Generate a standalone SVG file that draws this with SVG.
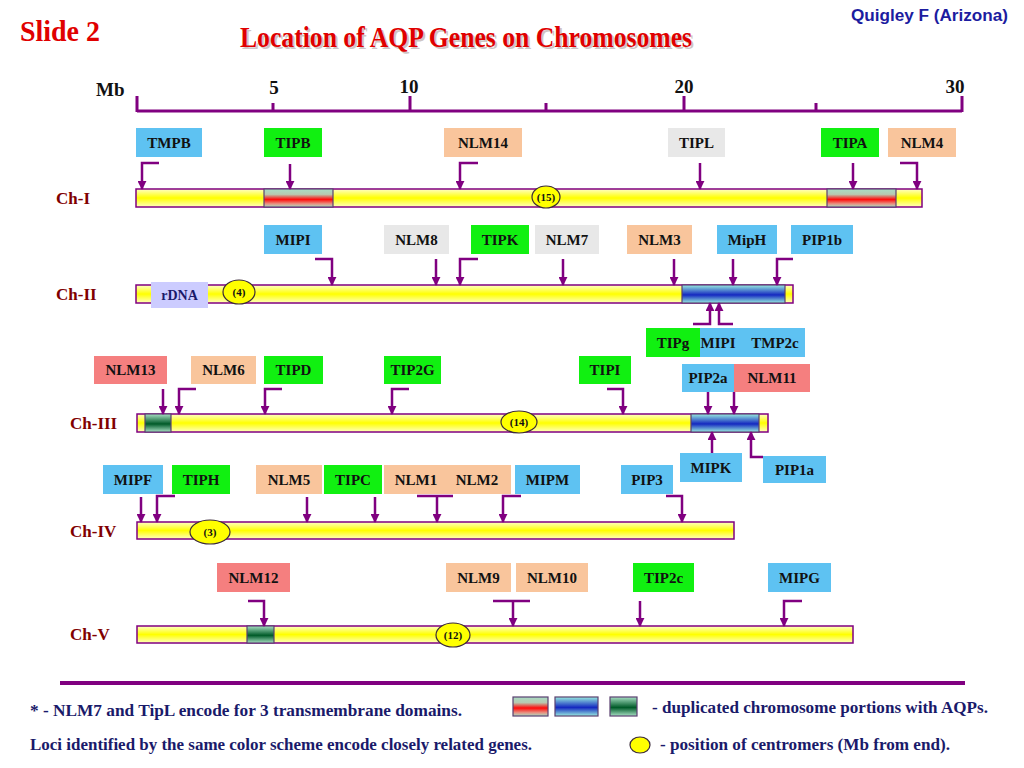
<svg xmlns="http://www.w3.org/2000/svg" width="1024" height="768" viewBox="0 0 1024 768">
<style>
.bx{stroke:none}
.blue{fill:#5ec2f2}.green{fill:#11f011}.orange{fill:#f9c59c}.gray{fill:#e8e8e8}.salmon{fill:#f57f7f}
.lbl{font-family:"Liberation Serif","Times New Roman",serif;font-weight:bold;font-size:15px;fill:#111;text-anchor:middle}
.ch{font-family:"Liberation Serif","Times New Roman",serif;font-weight:bold;font-size:17px;fill:#800000}
.num{font-family:"Liberation Serif","Times New Roman",serif;font-weight:bold;font-size:19px;fill:#111;text-anchor:middle}
.cen{fill:#ffff00;stroke:#3a2a3a;stroke-width:1.2}
.cent{font-family:"Liberation Serif","Times New Roman",serif;font-weight:bold;font-size:11px;fill:#111;text-anchor:middle}
.bar{fill:url(#gy);stroke:#800080;stroke-width:1.5}
.seg{stroke:#5a4070;stroke-width:1.2}
.leg{font-family:"Liberation Serif","Times New Roman",serif;font-weight:bold;font-size:17px;fill:#1a1a6a}
.arr{fill:none;stroke:#800080;stroke-width:2.5;marker-end:url(#ah)}
.ln{fill:none;stroke:#800080;stroke-width:2.5}
</style>
<defs>
<marker id="ah" viewBox="0 0 10 10" refX="9" refY="5" markerWidth="9" markerHeight="9" markerUnits="userSpaceOnUse" orient="auto">
<path d="M0,0 L10,5 L0,10 z" fill="#800080"/>
</marker>
<linearGradient id="gy" x1="0" y1="0" x2="0" y2="1">
<stop offset="0" stop-color="#ffffc8"/><stop offset="0.5" stop-color="#ffff00"/><stop offset="1" stop-color="#ffffc0"/>
</linearGradient>
<linearGradient id="gr" x1="0" y1="0" x2="0" y2="1">
<stop offset="0" stop-color="#a8dcc4"/><stop offset="0.3" stop-color="#b8c8b0"/><stop offset="0.58" stop-color="#ff0a0a"/><stop offset="0.82" stop-color="#e89080"/><stop offset="1" stop-color="#a8dcc4"/>
</linearGradient>
<linearGradient id="gb" x1="0" y1="0" x2="0" y2="1">
<stop offset="0" stop-color="#98ece0"/><stop offset="0.55" stop-color="#1428c0"/><stop offset="1" stop-color="#98ece0"/>
</linearGradient>
<linearGradient id="gg" x1="0" y1="0" x2="0" y2="1">
<stop offset="0" stop-color="#a8e0c4"/><stop offset="0.55" stop-color="#005a28"/><stop offset="1" stop-color="#a8e0c4"/>
</linearGradient>
</defs>
<rect width="1024" height="768" fill="#ffffff"/>

<!-- header -->
<text x="20" y="41" font-family="'Liberation Serif','Times New Roman',serif" font-weight="bold" font-size="30" fill="#e00000" textLength="80" lengthAdjust="spacingAndGlyphs">Slide 2</text>
<text x="242" y="49" font-family="'Liberation Serif','Times New Roman',serif" font-weight="bold" font-size="29" fill="#b0a0a0" opacity="0.6" textLength="452" lengthAdjust="spacingAndGlyphs">Location of AQP Genes on Chromosomes</text>
<text x="240" y="47" font-family="'Liberation Serif','Times New Roman',serif" font-weight="bold" font-size="29" fill="#e00000" textLength="452" lengthAdjust="spacingAndGlyphs">Location of AQP Genes on Chromosomes</text>
<text x="851" y="21" font-family="'Liberation Sans',Arial,sans-serif" font-weight="bold" font-size="16" fill="#1c1ca0" textLength="157" lengthAdjust="spacingAndGlyphs">Quigley F (Arizona)</text>

<!-- axis -->
<g id="axis">
<text x="96" y="96" font-family="'Liberation Serif','Times New Roman',serif" font-weight="bold" font-size="19" fill="#111">Mb</text>
<text class="num" x="274" y="94">5</text>
<text class="num" x="409" y="93">10</text>
<text class="num" x="684" y="93">20</text>
<text class="num" x="955" y="93">30</text>
<path d="M137,111 H962 M137,96 V112 M273,103 V112 M410,96 V112 M546,103 V112 M684,96 V112 M816,103 V112 M962,96 V112" fill="none" stroke="#800080" stroke-width="3"/>
</g>

<!-- chromosome labels -->
<text class="ch" x="56" y="204">Ch-I</text>
<text class="ch" x="56" y="300">Ch-II</text>
<text class="ch" x="70" y="429">Ch-III</text>
<text class="ch" x="70" y="537">Ch-IV</text>
<text class="ch" x="70" y="640">Ch-V</text>

<!-- chromosomes -->
<g id="ch1">
<rect class="bar" x="136" y="189" width="786" height="18"/>
<rect class="seg" x="264" y="189" width="69" height="18" fill="url(#gr)"/>
<rect class="seg" x="827" y="189" width="69" height="18" fill="url(#gr)"/>
<ellipse class="cen" cx="546" cy="197" rx="14" ry="11"/><text class="cent" x="546" y="201">(15)</text>
</g>
<g id="ch2">
<rect class="bar" x="136" y="285" width="657" height="18"/>
<rect class="seg" x="682" y="285" width="103" height="18" fill="url(#gb)"/>
<rect x="151" y="282" width="57" height="26" fill="#ccccff"/>
<text x="179.5" y="300" font-family="'Liberation Serif','Times New Roman',serif" font-weight="bold" font-size="14" fill="#1a1a6a" text-anchor="middle">rDNA</text>
<ellipse class="cen" cx="239" cy="292" rx="16" ry="12"/><text class="cent" x="239" y="296">(4)</text>
</g>
<g id="ch3">
<rect class="bar" x="137" y="414" width="631" height="18"/>
<rect class="seg" x="145" y="414" width="26" height="18" fill="url(#gg)"/>
<rect class="seg" x="691" y="414" width="68" height="18" fill="url(#gb)"/>
<ellipse class="cen" cx="519" cy="422" rx="18" ry="11"/><text class="cent" x="519" y="426">(14)</text>
</g>
<g id="ch4">
<rect class="bar" x="137" y="522" width="597" height="17"/>
<ellipse class="cen" cx="210" cy="532" rx="20" ry="12"/><text class="cent" x="210" y="536">(3)</text>
</g>
<g id="ch5">
<rect class="bar" x="137" y="626" width="716" height="17"/>
<rect class="seg" x="247" y="626" width="27" height="17" fill="url(#gg)"/>
<ellipse class="cen" cx="453" cy="635" rx="17" ry="12"/><text class="cent" x="453" y="639">(12)</text>
</g>

<!-- gene nodes -->
<g id="TMPB"><rect class="bx blue" x="136" y="128" width="66" height="29"/><text class="lbl" x="169" y="148">TMPB</text></g>
<g id="TIPB"><rect class="bx green" x="264" y="128" width="58" height="29"/><text class="lbl" x="293" y="148">TIPB</text></g>
<g id="NLM14"><rect class="bx orange" x="444" y="128" width="78" height="29"/><text class="lbl" x="483" y="148">NLM14</text></g>
<g id="TIPL"><rect class="bx gray" x="668" y="128" width="57" height="29"/><text class="lbl" x="696.5" y="148">TIPL</text></g>
<g id="TIPA"><rect class="bx green" x="821" y="128" width="58" height="29"/><text class="lbl" x="850" y="148">TIPA</text></g>
<g id="NLM4"><rect class="bx orange" x="888" y="128" width="68" height="29"/><text class="lbl" x="922" y="148">NLM4</text></g>

<g id="MIPI"><rect class="bx blue" x="264" y="225" width="58" height="29"/><text class="lbl" x="293" y="245">MIPI</text></g>
<g id="NLM8"><rect class="bx gray" x="384" y="225" width="65" height="29"/><text class="lbl" x="416.5" y="245">NLM8</text></g>
<g id="TIPK"><rect class="bx green" x="471" y="225" width="58" height="29"/><text class="lbl" x="500" y="245">TIPK</text></g>
<g id="NLM7"><rect class="bx gray" x="535" y="225" width="64" height="29"/><text class="lbl" x="567" y="245">NLM7</text></g>
<g id="NLM3"><rect class="bx orange" x="627" y="225" width="65" height="29"/><text class="lbl" x="659.5" y="245">NLM3</text></g>
<g id="MipH"><rect class="bx blue" x="717" y="225" width="60" height="29"/><text class="lbl" x="747" y="245">MipH</text></g>
<g id="PIP1b"><rect class="bx blue" x="791" y="225" width="62" height="29"/><text class="lbl" x="822" y="245">PIP1b</text></g>
<g id="TIPg"><rect class="bx green" x="646" y="328" width="54" height="29"/><text class="lbl" x="673" y="348">TIPg</text></g>
<g id="MIPI-TMP2c"><rect class="bx blue" x="700" y="328" width="105" height="29"/><text class="lbl" x="718" y="348">MIPI</text><text class="lbl" x="775" y="348">TMP2c</text></g>

<g id="NLM13"><rect class="bx salmon" x="94" y="356" width="73" height="28"/><text class="lbl" x="130.5" y="375">NLM13</text></g>
<g id="NLM6"><rect class="bx orange" x="191" y="356" width="65" height="28"/><text class="lbl" x="223.5" y="375">NLM6</text></g>
<g id="TIPD"><rect class="bx green" x="264" y="356" width="59" height="28"/><text class="lbl" x="293.5" y="375">TIPD</text></g>
<g id="TIP2G"><rect class="bx green" x="384" y="356" width="57" height="28"/><text class="lbl" x="412.5" y="375">TIP2G</text></g>
<g id="TIPI"><rect class="bx green" x="579" y="356" width="52" height="28"/><text class="lbl" x="605" y="375">TIPI</text></g>
<g id="PIP2a"><rect class="bx blue" x="682" y="364" width="52" height="28"/><text class="lbl" x="708" y="383">PIP2a</text></g>
<g id="NLM11"><rect class="bx salmon" x="734" y="364" width="76" height="28"/><text class="lbl" x="772" y="383">NLM11</text></g>
<g id="MIPK"><rect class="bx blue" x="680" y="453" width="62" height="29"/><text class="lbl" x="711" y="473">MIPK</text></g>
<g id="PIP1a"><rect class="bx blue" x="763" y="456" width="63" height="27"/><text class="lbl" x="794.5" y="475">PIP1a</text></g>

<g id="MIPF"><rect class="bx blue" x="103" y="465" width="60" height="29"/><text class="lbl" x="133" y="485">MIPF</text></g>
<g id="TIPH"><rect class="bx green" x="172" y="465" width="58" height="29"/><text class="lbl" x="201" y="485">TIPH</text></g>
<g id="NLM5"><rect class="bx orange" x="256" y="465" width="66" height="29"/><text class="lbl" x="289" y="485">NLM5</text></g>
<g id="TIPC"><rect class="bx green" x="324" y="465" width="58" height="29"/><text class="lbl" x="353" y="485">TIPC</text></g>
<g id="NLM1"><rect class="bx orange" x="384" y="465" width="64" height="29"/><text class="lbl" x="416" y="485">NLM1</text></g>
<g id="NLM2"><rect class="bx orange" x="447" y="465" width="64" height="29"/><text class="lbl" x="477" y="485">NLM2</text></g>
<g id="MIPM"><rect class="bx blue" x="515" y="465" width="65" height="29"/><text class="lbl" x="547.5" y="485">MIPM</text></g>
<g id="PIP3"><rect class="bx blue" x="621" y="465" width="52" height="29"/><text class="lbl" x="647" y="485">PIP3</text></g>

<g id="NLM12"><rect class="bx salmon" x="217" y="563" width="73" height="29"/><text class="lbl" x="253.5" y="583">NLM12</text></g>
<g id="NLM9"><rect class="bx orange" x="446" y="563" width="65" height="29"/><text class="lbl" x="478.5" y="583">NLM9</text></g>
<g id="NLM10"><rect class="bx orange" x="516" y="563" width="72" height="29"/><text class="lbl" x="552" y="583">NLM10</text></g>
<g id="TIP2c"><rect class="bx green" x="633" y="563" width="61" height="29"/><text class="lbl" x="663.5" y="583">TIP2c</text></g>
<g id="MIPG"><rect class="bx blue" x="768" y="563" width="63" height="29"/><text class="lbl" x="799.5" y="583">MIPG</text></g>

<!-- connectors -->
<g id="connectors">
<path class="arr" d="M159,163 H142 V189"/>
<path class="arr" d="M290,164 V189"/>
<path class="arr" d="M478,163 H460 V189"/>
<path class="arr" d="M700,163 V189"/>
<path class="arr" d="M853,163 V189"/>
<path class="arr" d="M900,163 H917 V189"/>

<path class="arr" d="M315,259 H332 V285"/>
<path class="arr" d="M436,259 V285"/>
<path class="arr" d="M478,259 H460 V285"/>
<path class="arr" d="M563,259 V285"/>
<path class="arr" d="M674,259 V285"/>
<path class="arr" d="M733,259 V285"/>
<path class="arr" d="M793,259 H777 V285"/>
<path class="arr" d="M693,324 H710 V303"/>
<path class="arr" d="M733,324 H719 V303"/>

<path class="arr" d="M163,389 V414"/>
<path class="arr" d="M196,389 H179 V414"/>
<path class="arr" d="M282,389 H265 V414"/>
<path class="arr" d="M409,389 H392 V414"/>
<path class="arr" d="M607,389 H623 V414"/>
<path class="arr" d="M708,392 V414"/>
<path class="arr" d="M734,392 V414"/>
<path class="arr" d="M712,453 V432"/>
<path class="arr" d="M763,457 H751 V432"/>

<path class="arr" d="M141,497 V522"/>
<path class="arr" d="M175,496 H157 V522"/>
<path class="arr" d="M307,497 V522"/>
<path class="arr" d="M375,497 V522"/>
<path class="ln" d="M417,496 H453"/>
<path class="arr" d="M437,496 V522"/>
<path class="arr" d="M521,496 H503 V522"/>
<path class="arr" d="M666,496 H682 V522"/>

<path class="arr" d="M248,601 H264 V626"/>
<path class="ln" d="M493,601 H530"/>
<path class="arr" d="M513,601 V626"/>
<path class="arr" d="M640,601 V626"/>
<path class="arr" d="M802,601 H784 V626"/>
</g>

<!-- legend -->
<g id="legend">
<path d="M60,683 H965" stroke="#800080" stroke-width="4"/>
<text class="leg" x="30" y="716" textLength="432" lengthAdjust="spacingAndGlyphs">*  - NLM7 and TipL encode for 3 transmembrane domains.</text>
<rect class="seg" x="513" y="697" width="35" height="19" fill="url(#gr)"/>
<rect class="seg" x="555" y="697" width="43" height="19" fill="url(#gb)"/>
<rect class="seg" x="610" y="697" width="27" height="19" fill="url(#gg)"/>
<text class="leg" x="652" y="713" textLength="336" lengthAdjust="spacingAndGlyphs">- duplicated chromosome portions with AQPs.</text>
<text class="leg" x="30" y="750" textLength="502" lengthAdjust="spacingAndGlyphs">Loci identified by the same color scheme encode closely related genes.</text>
<ellipse class="cen" cx="640" cy="745" rx="10" ry="8"/>
<text class="leg" x="660" y="750" textLength="290" lengthAdjust="spacingAndGlyphs">- position of centromers (Mb from end).</text>
</g>
</svg>
